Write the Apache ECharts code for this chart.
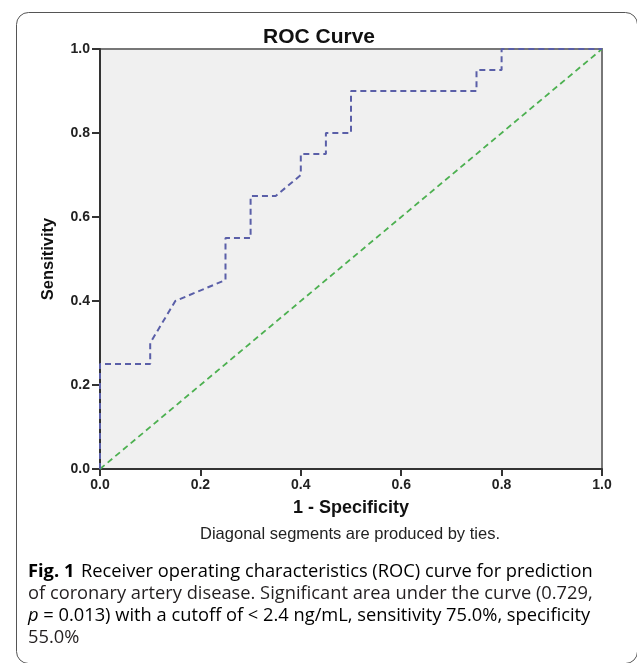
<!DOCTYPE html>
<html>
<head>
<meta charset="utf-8">
<script src="https://cdn.jsdelivr.net/npm/echarts@6/dist/echarts.min.js"></script>
<style>
html,body{margin:0;padding:0;background:#fff;}
#c{width:637px;height:663px;}
</style>
</head>
<body>
<div id="c"></div>
<script>
// ROC curve points (1 - specificity, sensitivity)
const rocX = [0, 0, 0.1, 0.1, 0.15, 0.25, 0.25, 0.3, 0.3, 0.35, 0.4, 0.4, 0.45, 0.45, 0.5, 0.5, 0.75, 0.75, 0.8, 0.8, 1.0];
const rocY = [0, 0.25, 0.25, 0.3, 0.4, 0.45, 0.55, 0.55, 0.65, 0.65, 0.7, 0.75, 0.75, 0.8, 0.8, 0.9, 0.9, 0.95, 0.95, 1.0, 1.0];
// Reference diagonal line
const refX = [0, 1];
const refY = [0, 1];
const tickLabels = ['0.0', '0.2', '0.4', '0.6', '0.8', '1.0'];
const captionLines = [
  'Receiver operating characteristics (ROC) curve for prediction',
  'of coronary artery disease. Significant area under the curve (0.729,',
  '= 0.013) with a cutoff of < 2.4 ng/mL, sensitivity 75.0%, specificity',
  '55.0%'
];

const chart = echarts.init(document.getElementById('c'), null, {renderer: 'canvas'});
const rocData = rocX.map((x, i) => [x, rocY[i]]);
const refData = refX.map((x, i) => [x, refY[i]]);
const tickFmt = v => tickLabels[Math.round(v * 5)] || '';

const capFont = '"Open Sans", "Noto Sans", sans-serif';
const capX = 28;
const capSize = 18.3;
const arial = '"Liberation Sans", Arial, sans-serif';
chart.setOption({
  animation: false,
  backgroundColor: '#fff',
  title: {
    text: 'ROC Curve',
    left: 314, top: 22, textAlign: 'center',
    textStyle: {fontFamily: arial, fontWeight: 'bold', fontSize: 21, color: '#111'}
  },
  grid: {
    left: 100, right: 35, top: 49, bottom: 194,
    show: true, backgroundColor: '#f0f0f0', borderColor: '#777', borderWidth: 2
  },
  xAxis: {
    type: 'value', min: 0, max: 1, interval: 0.2,
    name: '1 - Specificity', nameLocation: 'middle', nameGap: 30,
    nameTextStyle: {fontFamily: arial, fontWeight: 'bold', fontSize: 18, color: '#111'},
    axisLine: {show: true, lineStyle: {color: '#333', width: 2}},
    axisTick: {show: true, length: 7, lineStyle: {color: '#333', width: 2}},
    axisLabel: {formatter: tickFmt, fontFamily: arial, fontWeight: 'bold', fontSize: 14, color: '#222', margin: 9},
    splitLine: {show: false}
  },
  yAxis: {
    type: 'value', min: 0, max: 1, interval: 0.2,
    name: 'Sensitivity', nameLocation: 'middle', nameGap: 43,
    nameTextStyle: {fontFamily: arial, fontWeight: 'bold', fontSize: 16.5, color: '#111'},
    axisLine: {show: true, lineStyle: {color: '#333', width: 2}},
    axisTick: {show: true, length: 8, lineStyle: {color: '#333', width: 2}},
    axisLabel: {formatter: tickFmt, fontFamily: arial, fontWeight: 'bold', fontSize: 14, color: '#222', margin: 10},
    splitLine: {show: false}
  },
  series: [
    {
      type: 'line', data: refData, showSymbol: false, symbol: 'none',
      lineStyle: {color: '#4cb050', width: 1.8, type: [6, 4]}
    },
    {
      type: 'line', data: rocData, showSymbol: false, symbol: 'none',
      lineStyle: {color: '#5a5fa8', width: 2, type: [6, 4]}
    }
  ],
  graphic: [
    {
      type: 'rect', left: 14, top: 10, z: -1,
      shape: {width: 621, height: 651, r: 12},
      style: {fill: 'none', stroke: '#555', lineWidth: 1}
    },
    {
      type: 'text', x: 350, y: 526,
      style: {text: 'Diagonal segments are produced by ties.', font: '16.5px ' + arial, fill: '#222', align: 'center', verticalAlign: 'top'}
    },
    {
      type: 'text', left: capX, top: 563,
      style: {
        text: '{b|Fig. 1}  {r|' + captionLines[0] + '}',
        rich: {
          b: {fontFamily: capFont, fontWeight: 'bold', fontSize: capSize, color: '#231f20'},
          r: {fontFamily: capFont, fontSize: capSize, color: '#231f20'}
        }
      }
    },
    {
      type: 'text', left: capX, top: 585,
      style: {text: captionLines[1], font: capSize + 'px ' + capFont, fill: '#231f20'}
    },
    {
      type: 'text', left: capX, top: 607,
      style: {
        text: '{i|p}{r| ' + captionLines[2] + '}',
        rich: {
          i: {fontFamily: capFont, fontStyle: 'italic', fontSize: capSize, color: '#231f20'},
          r: {fontFamily: capFont, fontSize: capSize, color: '#231f20'}
        }
      }
    },
    {
      type: 'text', left: capX, top: 629,
      style: {text: captionLines[3], font: capSize + 'px ' + capFont, fill: '#231f20'}
    }
  ]
});
</script>
</body>
</html>
